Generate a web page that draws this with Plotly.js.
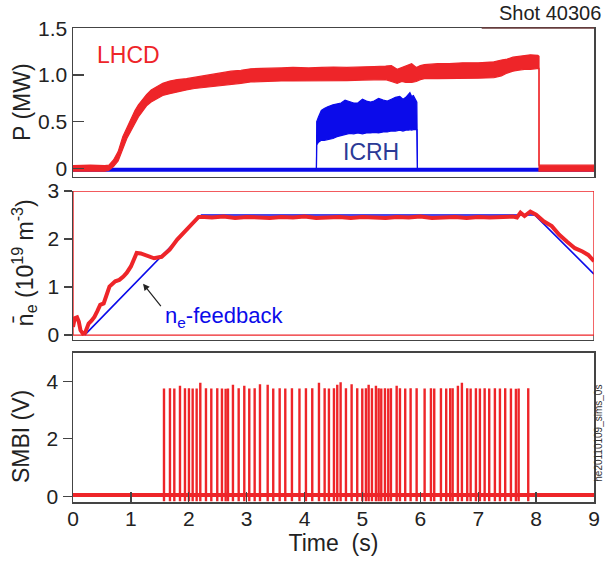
<!DOCTYPE html>
<html><head><meta charset="utf-8">
<script src="https://cdn.plot.ly/plotly-3.0.1.min.js"></script>
<style>body{margin:0;padding:0;background:#fff}#chart{width:605px;height:564px}</style>
</head><body><div id="chart"></div>
<script>
// ---- Top panel: LHCD power band (lower / upper envelope), MW
const lhcdT  = [0, 0.3, 0.55, 0.62, 0.70, 0.78, 0.86, 0.93, 1.00, 1.07, 1.13, 1.20, 1.27, 1.35, 1.43, 1.55, 1.67, 1.80, 1.96, 2.10, 2.25, 2.40, 2.55, 2.73, 2.90, 3.07, 3.25, 3.40, 3.60, 3.80, 4.07, 4.30, 4.50, 4.73, 5.00, 5.20, 5.40, 5.50, 5.60, 5.68, 5.75, 5.85, 5.93, 6.00, 6.07, 6.30, 6.50, 6.73, 7.00, 7.27, 7.40, 7.50, 7.60, 7.70, 7.80, 7.90, 8.03, 8.05, 8.05, 8.30, 8.60, 9.00];
const lhcdLo = [-0.03, -0.03, -0.03, -0.02, 0.02, 0.08, 0.22, 0.32, 0.40, 0.48, 0.55, 0.61, 0.67, 0.71, 0.74, 0.78, 0.80, 0.82, 0.84, 0.855, 0.865, 0.87, 0.885, 0.895, 0.91, 0.925, 0.93, 0.93, 0.935, 0.935, 0.935, 0.94, 0.935, 0.94, 0.945, 0.945, 0.95, 0.93, 0.91, 0.93, 0.92, 0.92, 0.93, 0.95, 0.96, 0.96, 0.96, 0.96, 0.965, 0.97, 0.99, 1.02, 1.04, 1.05, 1.06, 1.06, 1.07, 1.07, -0.03, -0.03, -0.03, -0.03];
const lhcdHi = [0.03, 0.035, 0.03, 0.035, 0.09, 0.18, 0.34, 0.44, 0.52, 0.62, 0.68, 0.74, 0.79, 0.84, 0.87, 0.91, 0.935, 0.95, 0.96, 0.975, 0.99, 1.00, 1.02, 1.04, 1.05, 1.065, 1.07, 1.07, 1.075, 1.08, 1.075, 1.08, 1.085, 1.08, 1.09, 1.09, 1.095, 1.10, 1.06, 1.08, 1.09, 1.12, 1.08, 1.10, 1.11, 1.12, 1.12, 1.13, 1.13, 1.14, 1.16, 1.17, 1.19, 1.20, 1.21, 1.215, 1.21, 1.20, 0.035, 0.035, 0.035, 0.035];

// ---- Top panel: ICRH power band, MW
const icrhT  = [4.205, 4.21, 4.24, 4.29, 4.34, 4.40, 4.49, 4.56, 4.63, 4.70, 4.78, 4.85, 4.92, 5.00, 5.07, 5.14, 5.20, 5.28, 5.36, 5.43, 5.50, 5.57, 5.645, 5.70, 5.75, 5.80, 5.82, 5.85, 5.88, 5.94, 5.95];
const icrhLo = [-0.015, 0.25, 0.28, 0.30, 0.30, 0.31, 0.32, 0.34, 0.35, 0.36, 0.375, 0.37, 0.38, 0.37, 0.38, 0.38, 0.385, 0.38, 0.39, 0.39, 0.40, 0.40, 0.41, 0.40, 0.41, 0.41, 0.415, 0.41, 0.415, 0.415, -0.015];
const icrhHi = [-0.015, 0.50, 0.55, 0.62, 0.64, 0.66, 0.68, 0.69, 0.70, 0.73, 0.71, 0.70, 0.70, 0.74, 0.72, 0.71, 0.72, 0.75, 0.73, 0.72, 0.74, 0.76, 0.77, 0.74, 0.76, 0.79, 0.81, 0.77, 0.78, 0.71, -0.015];
const icrhBaseT = [0, 9];
const icrhBaseV = [-0.015, -0.015];

// ---- Middle panel: line-averaged density and feedback target (10^19 m^-3)
const neT = [0, 0.03, 0.07, 0.10, 0.13, 0.17, 0.21, 0.27, 0.32, 0.37, 0.42, 0.47, 0.53, 0.58, 0.63, 0.73, 0.80, 0.87, 0.93, 1.00, 1.05, 1.10, 1.17, 1.27, 1.40, 1.53, 1.60, 1.67, 1.80, 1.93, 2.07, 2.17, 2.27, 2.40, 2.60, 2.80, 3.00, 3.20, 3.40, 3.60, 3.80, 4.00, 4.20, 4.40, 4.60, 4.80, 5.00, 5.20, 5.40, 5.60, 5.80, 6.00, 6.20, 6.40, 6.60, 6.80, 7.00, 7.20, 7.40, 7.60, 7.67, 7.73, 7.80, 7.90, 8.00, 8.13, 8.27, 8.40, 8.53, 8.67, 8.80, 8.90, 9.00];
const neV = [0.17, 0.35, 0.37, 0.28, 0.10, 0.03, 0.05, 0.24, 0.30, 0.38, 0.50, 0.63, 0.66, 0.85, 1.01, 1.12, 1.15, 1.22, 1.30, 1.43, 1.55, 1.71, 1.70, 1.65, 1.60, 1.63, 1.70, 1.78, 1.99, 2.16, 2.34, 2.46, 2.46, 2.45, 2.47, 2.44, 2.46, 2.45, 2.44, 2.46, 2.45, 2.47, 2.44, 2.45, 2.46, 2.44, 2.46, 2.45, 2.44, 2.46, 2.45, 2.47, 2.44, 2.45, 2.46, 2.44, 2.46, 2.45, 2.46, 2.47, 2.45, 2.55, 2.48, 2.57, 2.51, 2.37, 2.27, 2.09, 1.95, 1.81, 1.74, 1.67, 1.54];
const fbT = [0.20, 2.22, 7.98, 9.00];
const fbV = [0.00, 2.50, 2.50, 1.27];

// ---- Bottom panel: SMBI valve voltage pulses (V)
const smbiPulseT = [1.572, 1.675, 1.750, 1.848, 1.934, 2.003, 2.067, 2.136, 2.199, 2.297, 2.389, 2.492, 2.573, 2.637, 2.677, 2.763, 2.862, 2.959, 3.045, 3.138, 3.230, 3.363, 3.459, 3.570, 3.667, 3.782, 3.912, 4.024, 4.133, 4.249, 4.347, 4.421, 4.508, 4.565, 4.623, 4.715, 4.813, 4.910, 4.997, 5.060, 5.107, 5.164, 5.233, 5.280, 5.325, 5.389, 5.446, 5.492, 5.591, 5.648, 5.739, 5.832, 5.936, 6.074, 6.183, 6.240, 6.356, 6.447, 6.516, 6.558, 6.649, 6.718, 6.810, 6.869, 6.960, 7.029, 7.111, 7.190, 7.288, 7.375, 7.466, 7.565, 7.651, 7.698, 7.864];
const smbiPulseV = [3.75, 3.76, 3.75, 3.85, 3.76, 3.76, 3.75, 3.75, 3.95, 3.76, 3.75, 3.76, 3.75, 3.74, 3.75, 3.88, 3.76, 3.85, 3.75, 3.76, 3.90, 3.88, 3.75, 3.76, 3.75, 3.76, 3.75, 3.76, 3.76, 3.95, 3.76, 3.75, 3.76, 3.88, 3.97, 3.76, 3.90, 3.76, 3.75, 3.76, 3.88, 3.76, 3.85, 3.76, 3.75, 3.76, 3.75, 3.76, 3.85, 3.76, 3.75, 3.76, 3.76, 3.75, 3.76, 3.75, 3.76, 3.75, 3.76, 3.76, 3.85, 3.95, 3.76, 3.75, 3.76, 3.75, 3.76, 3.75, 3.76, 3.75, 3.76, 3.75, 3.74, 3.75, 3.76];
const smbiPulseBase = -0.17;
const smbiBaseT = [0, 1, 2, 3, 4, 5, 6, 7, 8, 9];
const smbiBaseV = [0.04, 0.04, 0.04, 0.04, 0.04, 0.04, 0.04, 0.04, 0.04, 0.04];

// ---- Tick labels
const xTicks = [0, 1, 2, 3, 4, 5, 6, 7, 8, 9];
const pTickVals = [0, 0.5, 1.0, 1.5];
const pTickText = ['0', '0.5', '1.0', '1.5'];
const neTickVals = [0, 1, 2, 3];
const smbiTickVals = [0, 2, 4];

const RED = '#ee2529';
const BLUE = '#0b0bea';

// build pulse segments
const px = [], py = [];
smbiPulseT.forEach((t, i) => { px.push(t, t, null); py.push(smbiPulseBase, smbiPulseV[i], null); });

const traces = [
  {x: icrhBaseT, y: icrhBaseV, xaxis: 'x', yaxis: 'y', mode: 'lines', line: {color: BLUE, width: 4}, hoverinfo: 'skip'},
  {x: icrhT, y: icrhLo, xaxis: 'x', yaxis: 'y', mode: 'lines', line: {color: BLUE, width: 1.2}, hoverinfo: 'skip'},
  {x: icrhT, y: icrhHi, xaxis: 'x', yaxis: 'y', mode: 'lines', fill: 'tonexty', fillcolor: BLUE, line: {color: BLUE, width: 1.2}, hoverinfo: 'skip'},
  {x: lhcdT, y: lhcdLo, xaxis: 'x', yaxis: 'y', mode: 'lines', line: {color: RED, width: 1.2}, hoverinfo: 'skip'},
  {x: lhcdT, y: lhcdHi, xaxis: 'x', yaxis: 'y', mode: 'lines', fill: 'tonexty', fillcolor: RED, line: {color: RED, width: 1.2}, hoverinfo: 'skip'},
  {x: fbT, y: fbV, xaxis: 'x2', yaxis: 'y2', mode: 'lines', line: {color: BLUE, width: 1.6}, hoverinfo: 'skip'},
  {x: neT, y: neV, xaxis: 'x2', yaxis: 'y2', mode: 'lines', line: {color: RED, width: 4}, hoverinfo: 'skip'},
  {x: smbiBaseT, y: smbiBaseV, xaxis: 'x3', yaxis: 'y3', mode: 'lines', line: {color: RED, width: 4}, hoverinfo: 'skip'},
  {x: px, y: py, xaxis: 'x3', yaxis: 'y3', mode: 'lines', line: {color: RED, width: 2.4}, connectgaps: false, hoverinfo: 'skip'}
];

const FONT = 'Liberation Sans, Arial, Helvetica, sans-serif';
const frame = {showline: true, mirror: true, linecolor: '#444', linewidth: 1.5, zeroline: false, showgrid: false};

const layout = {
  width: 605, height: 564,
  margin: {l: 73, r: 11, t: 28, b: 62},
  paper_bgcolor: '#fff', plot_bgcolor: '#fff',
  showlegend: false,
  font: {family: FONT, size: 21, color: '#222'},
  xaxis: Object.assign({}, frame, {anchor: 'y', range: [0, 9], showticklabels: false, ticks: ''}),
  xaxis2: Object.assign({}, frame, {anchor: 'y2', range: [0, 9], showticklabels: false, ticks: '', mirror: false}),
  xaxis3: Object.assign({}, frame, {anchor: 'y3', range: [0, 9], tickvals: xTicks, ticks: 'inside', ticklen: 10, tickcolor: '#444', tickwidth: 1.3,
    tickfont: {size: 21, color: '#222'}, ticklabelstandoff: -3,
    title: {text: 'Time&nbsp;&nbsp;(s)', font: {size: 23, color: '#222'}, standoff: 2}}),
  yaxis: Object.assign({}, frame, {anchor: 'x', domain: [0.686, 1.0], range: [-0.09, 1.502], tickvals: pTickVals, ticktext: pTickText,
    ticks: 'inside', ticklen: 11, tickcolor: '#444', tickwidth: 1.3, tickfont: {size: 21, color: '#222'}}),
  yaxis2: Object.assign({}, frame, {anchor: 'x2', domain: [0.342, 0.656], range: [-0.1, 3.0], tickvals: neTickVals, mirror: false,
    ticks: 'outside', ticklen: 8, tickcolor: '#444', tickwidth: 1.3, tickfont: {size: 21, color: '#222'}}),
  yaxis3: Object.assign({}, frame, {anchor: 'x3', domain: [0, 0.315], range: [-0.2, 5.0], tickvals: smbiTickVals,
    ticks: 'outside', ticklen: 9, tickcolor: '#444', tickwidth: 1.3, tickfont: {size: 21, color: '#222'}}),
  shapes: [
    {type: 'line', xref: 'x2', yref: 'y2', x0: 9, x1: 9, y0: -0.1, y1: 0, line: {color: '#444', width: 1.5}, layer: 'above'},
    {type: 'rect', xref: 'x2', yref: 'y2', x0: 0, x1: 9, y0: 0, y1: 3, line: {color: RED, width: 1.4}, layer: 'above'},
    {type: 'line', xref: 'x', yref: 'paper', x0: 7.06, x1: 9, y0: 1, y1: 1, line: {color: '#6b3b3b', width: 1.5}, layer: 'above'}
  ],
  annotations: [
    {text: 'P (MW)', xref: 'paper', yref: 'paper', x: -0.098, y: 0.844, textangle: -90, showarrow: false, xanchor: 'center', yanchor: 'middle', font: {size: 23, color: '#222'}},
    {text: 'n\u0304<sub>e</sub> (10<sup>19</sup> m<sup>-3</sup>)', xref: 'paper', yref: 'paper', x: -0.094, y: 0.504, textangle: -90, showarrow: false, xanchor: 'center', yanchor: 'middle', font: {size: 23, color: '#222'}},
    {text: 'SMBI (V)', xref: 'paper', yref: 'paper', x: -0.1, y: 0.139, textangle: -90, showarrow: false, xanchor: 'center', yanchor: 'middle', font: {size: 23, color: '#222'}},
    {text: 'Shot 40306', xref: 'paper', yref: 'paper', x: 1.018, y: 1.032, showarrow: false, xanchor: 'right', yanchor: 'middle', font: {size: 20, color: '#222'}},
    {text: 'LHCD', xref: 'x', yref: 'y', x: 0.96, y: 1.21, showarrow: false, font: {size: 23, color: RED}},
    {text: 'ICRH', xref: 'x', yref: 'y', x: 5.15, y: 0.18, showarrow: false, font: {size: 23, color: '#2b3a96'}},
    {text: 'n<sub>e</sub>-feedback', xref: 'x2', yref: 'y2', x: 2.6, y: 0.38, showarrow: false, font: {size: 22, color: BLUE}},
    {text: '', xref: 'x2', yref: 'y2', x: 1.21, y: 1.07, ax: 19, ay: 24, showarrow: true, arrowhead: 2, arrowsize: 1.1, arrowwidth: 1.2, arrowcolor: '#222'},
    {text: 'he20110109_sims_0s', xref: 'paper', yref: 'paper', x: 1.008, y: 0.251, textangle: -90, showarrow: false, xanchor: 'center', yanchor: 'top', font: {size: 10, color: '#333'}}
  ]
};

Plotly.newPlot('chart', traces, layout, {staticPlot: true, displayModeBar: false});
</script></body></html>
